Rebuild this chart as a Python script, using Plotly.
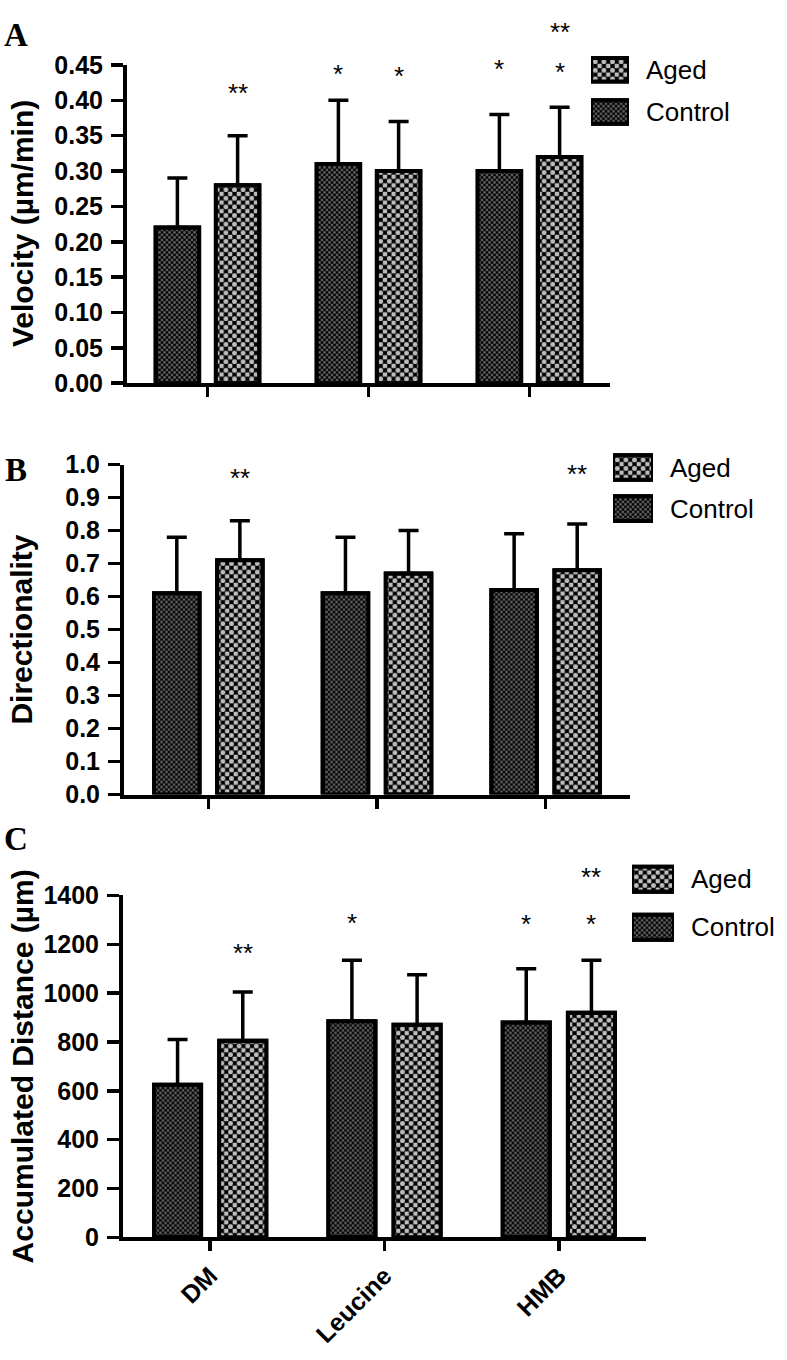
import plotly.graph_objects as go

# ---------------- data ----------------
groups = ["DM", "Leucine", "HMB"]
series = ["Aged", "Control"]

vel_control = [0.22, 0.31, 0.30]
vel_control_top = [0.29, 0.40, 0.38]
vel_aged = [0.28, 0.30, 0.32]
vel_aged_top = [0.35, 0.37, 0.39]

dir_control = [0.61, 0.61, 0.62]
dir_control_top = [0.78, 0.78, 0.79]
dir_aged = [0.71, 0.67, 0.68]
dir_aged_top = [0.83, 0.80, 0.82]

dist_control = [625, 885, 880]
dist_control_top = [810, 1135, 1100]
dist_aged = [805, 870, 920]
dist_aged_top = [1005, 1075, 1135]

# significance marks: (group index, series, text, height in axis units)
sig_vel = [(0, "Aged", "**", 0.418), (1, "Control", "*", 0.446), (1, "Aged", "*", 0.442),
           (2, "Control", "*", 0.453), (2, "Aged", "*", 0.449), (2, "Aged", "**", 0.505)]
sig_dir = [(0, "Aged", "**", 0.976), (2, "Aged", "**", 0.988)]
sig_dist = [(0, "Aged", "**", 1187), (1, "Control", "*", 1312), (2, "Control", "*", 1308),
            (2, "Aged", "*", 1308), (2, "Aged", "**", 1500)]

# ---------------- style ----------------
SANS = "Liberation Sans, Arial, sans-serif"
SERIF = "Liberation Serif, Times New Roman, serif"
W, H = 787, 1360
BAR_W = 0.27
CENTER = 0.187
OUTLINE = 4
GLYPH_SHIFT = 6  # px: an asterisk sits above the middle of its text box
style = {
    "Control": dict(off=-CENTER, bg="#5e5e5e", size=5.0),
    "Aged": dict(off=CENTER, bg="#bdbdbd", size=8.6),
}


def bar_pair(name, common, err=None):
    """Two stacked layers that together draw a checkerboard-filled bar."""
    st = style[name]
    base = go.Bar(name=name, showlegend=False, hoverinfo="skip", cliponaxis=False,
                  marker=dict(color=st["bg"], line=dict(color="black", width=OUTLINE),
                              pattern=dict(shape="+", fgcolor="black", bgcolor=st["bg"],
                                           size=st["size"], solidity=0.75, fillmode="replace")),
                  **common)
    top = go.Bar(name=name, showlegend=False, hoverinfo="skip", cliponaxis=False,
                 marker=dict(color="rgba(0,0,0,0)", line=dict(color="black", width=OUTLINE),
                             pattern=dict(shape=".", fgcolor=st["bg"], bgcolor="rgba(0,0,0,0)",
                                          size=st["size"], solidity=0.25, fillmode="replace")),
                 **common)
    if err is not None:
        top.error_y = dict(type="data", symmetric=False, array=err, arrayminus=[0] * len(err),
                           color="black", thickness=3.5, width=10)
    return [base, top]


panels = [
    dict(ax="", vals={"Control": (vel_control, vel_control_top), "Aged": (vel_aged, vel_aged_top)},
         xpx=(127, 610), ypx=(52, 377), rng=[0, 0.45], dtick=0.05, fmt=".2f",
         title="Velocity (µm/min)", letter="A", letter_y=21, sig=sig_vel,
         leg=dict(ax="4", x=(591, 629), y=(35.5, 121.5), thick=0.56)),
    dict(ax="2", vals={"Control": (dir_control, dir_control_top), "Aged": (dir_aged, dir_aged_top)},
         xpx=(124, 630), ypx=(460, 797), rng=[0, 1.0], dtick=0.1, fmt=".1f",
         title="Directionality", letter="B", letter_y=466, sig=sig_dir,
         leg=dict(ax="5", x=(613, 653), y=(442, 526), thick=0.6)),
    dict(ax="3", vals={"Control": (dist_control, dist_control_top), "Aged": (dist_aged, dist_aged_top)},
         xpx=(123, 646), ypx=(900, 1249), rng=[0, 1400], dtick=200, fmt="d",
         title="Accumulated Distance (µm)", letter="C", letter_y=842, sig=sig_dist,
         leg=dict(ax="6", x=(632, 674), y=(859, 957), thick=0.52)),
]

fig = go.Figure()
annotations = []
layout = dict(width=W, height=H, margin=dict(l=0, r=0, t=0, b=0),
              paper_bgcolor="white", plot_bgcolor="white", barmode="overlay", showlegend=False)

for i, p in enumerate(panels):
    xa, ya = "x" + p["ax"], "y" + p["ax"]
    for name in ["Control", "Aged"]:
        st = style[name]
        v, topv = p["vals"][name]
        err = [t - b for t, b in zip(topv, v)]
        common = dict(x=groups, y=v, xaxis=xa, yaxis=ya, width=BAR_W, offset=st["off"] - BAR_W / 2)
        for tr in bar_pair(name, common, err):
            fig.add_trace(tr)

    x0, x1 = p["xpx"]
    y0, y1 = p["ypx"]
    layout["xaxis" + p["ax"]] = dict(
        domain=[x0 / W, x1 / W], range=[-0.5, 2.5], anchor=ya, type="category",
        showline=True, linecolor="black", linewidth=4, showgrid=False, zeroline=False,
        ticks="outside", ticklen=10, tickwidth=3.5, tickcolor="black",
        showticklabels=(i == 2), tickangle=-45,
        tickfont=dict(family=SANS, size=25, color="black", weight="bold"))
    layout["yaxis" + p["ax"]] = dict(
        domain=[1 - y1 / H, 1 - y0 / H], range=p["rng"], anchor=xa,
        showline=True, linecolor="black", linewidth=4, showgrid=False, zeroline=False,
        ticks="outside", ticklen=12, tickwidth=3.5, tickcolor="black",
        dtick=p["dtick"], tick0=0, tickformat=p["fmt"], ticklabelstandoff=3,
        tickfont=dict(family=SANS, size=25, color="black", weight="bold"))

    # legend drawn as a small key: one patterned swatch per series, names as labels
    lg = p["leg"]
    lxa, lya = "x" + lg["ax"], "y" + lg["ax"]
    for name in series:
        common = dict(y=[name], x=[1], orientation="h", xaxis=lxa, yaxis=lya, width=lg["thick"])
        for tr in bar_pair(name, common):
            fig.add_trace(tr)
    layout["xaxis" + lg["ax"]] = dict(
        domain=[lg["x"][0] / W, lg["x"][1] / W], range=[0, 1], anchor=lya, visible=False, fixedrange=True)
    layout["yaxis" + lg["ax"]] = dict(
        domain=[1 - lg["y"][1] / H, 1 - lg["y"][0] / H], anchor=lxa, side="right", type="category",
        categoryorder="array", categoryarray=series[::-1], range=[-0.5, 1.5],
        showline=False, showgrid=False, zeroline=False, ticks="", ticklabelstandoff=16, fixedrange=True,
        tickfont=dict(family=SANS, size=26, color="black"))

    # y-axis title
    annotations.append(dict(
        text=p["title"], xref="paper", yref="paper", x=22 / W, y=1 - (y0 + y1) / 2 / H,
        xanchor="center", yanchor="middle", textangle=-90, showarrow=False,
        font=dict(family=SANS, size=30, color="black", weight="bold")))
    # panel letter
    annotations.append(dict(
        text=p["letter"], xref="paper", yref="paper", x=16 / W, y=1 - p["letter_y"] / H,
        xanchor="center", yanchor="middle", showarrow=False,
        font=dict(family=SERIF, size=33, color="black", weight="bold")))
    # significance marks
    hpx = y1 - y0
    for gi, ser, txt, yv in p["sig"]:
        annotations.append(dict(
            text=txt, xref=xa, yref=ya + " domain", x=gi + style[ser]["off"],
            y=yv / p["rng"][1] - GLYPH_SHIFT / hpx,
            xanchor="center", yanchor="middle", showarrow=False,
            font=dict(family=SANS, size=26, color="black")))

layout["annotations"] = annotations
fig.update_layout(**layout)
fig.write_html("out.html", config={"displayModeBar": False, "staticPlot": True},
               post_script="document.body.style.margin='0';")
